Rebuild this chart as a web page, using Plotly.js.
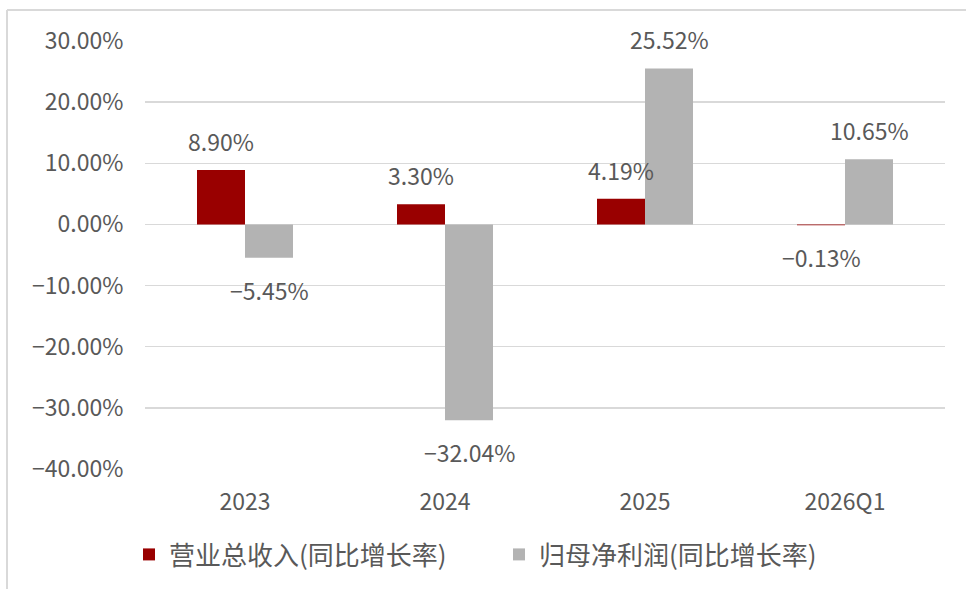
<!DOCTYPE html>
<html>
<head>
<meta charset="utf-8">
<script src="https://cdn.plot.ly/plotly-3.0.1.min.js"></script>
<style>
html,body{margin:0;padding:0;background:#fff;}
#chart{width:966px;height:589px;}
</style>
</head>
<body>
<div id="chart"></div>
<script>
const categories = ['2023', '2024', '2025', '2026Q1'];
const revenueGrowth = [8.90, 3.30, 4.19, -0.13];
const profitGrowth = [-5.45, -32.04, 25.52, 10.65];
const seriesNames = ['营业总收入(同比增长率)', '归母净利润(同比增长率)'];
const seriesColors = ['#990000', '#b3b3b3'];

const FONT = '"Noto Sans CJK SC", "Noto Sans", sans-serif';
const TXT = '#595959';

function fmt(v) {
  return (v < 0 ? '\u2212' : '') + Math.abs(v).toFixed(2) + '%';
}

const traces = [revenueGrowth, profitGrowth].map((vals, i) => ({
  type: 'bar',
  x: categories,
  y: vals,
  name: seriesNames[i],
  marker: {color: seriesColors[i]},
  hoverinfo: 'x+y'
}));

const annotations = [];
[revenueGrowth, profitGrowth].forEach((vals, i) => {
  vals.forEach((v, j) => {
    annotations.push({
      x: j, y: v, xref: 'x', yref: 'y',
      text: fmt(v), showarrow: false,
      xshift: i === 0 ? -24 : 24,
      yshift: v >= 0 ? 29 : -32,
      yanchor: 'middle', xanchor: 'center',
      font: {family: FONT, size: 23, color: TXT}
    });
  });
});

const layout = {
  width: 966, height: 589,
  margin: {l: 145, r: 21, t: 41, b: 119},
  paper_bgcolor: '#fff', plot_bgcolor: '#fff',
  barmode: 'group', bargap: 0.52, bargroupgap: 0,
  font: {family: FONT, color: TXT, size: 23},
  xaxis: {
    type: 'category', range: [-0.5, categories.length - 0.5], autorange: false,
    showgrid: false, showline: false, zeroline: false,
    ticks: 'outside', ticklen: 12, tickcolor: 'rgba(0,0,0,0)',
    tickfont: {family: FONT, size: 23, color: TXT}
  },
  yaxis: {
    range: [-40, 30], autorange: false, dtick: 10, tick0: 0,
    tickformat: '.2f', ticksuffix: '%',
    showgrid: true, gridcolor: '#d9d9d9', gridwidth: 1.5,
    zeroline: true, zerolinecolor: '#d9d9d9', zerolinewidth: 1.5,
    showline: false,
    ticks: 'outside', ticklen: 16, tickcolor: 'rgba(0,0,0,0)',
    tickfont: {family: FONT, size: 23, color: TXT}
  },
  showlegend: true,
  legend: {
    orientation: 'h', x: -0.02, xanchor: 'left', y: -0.197, yanchor: 'middle',
    font: {family: FONT, size: 26, color: TXT},
    itemwidth: 30, traceorder: 'normal', entrywidth: 325
  },
  annotations: annotations,
  shapes: [
    {type: 'line', xref: 'paper', yref: 'paper', x0: -0.1725, x1: 1.2, y0: 1.0723, y1: 1.0723,
     line: {color: '#d9d9d9', width: 2}},
    {type: 'line', xref: 'paper', yref: 'paper', x0: -0.1725, x1: -0.1725, y0: 1.0723, y1: -0.5,
     line: {color: '#d9d9d9', width: 2}}
  ]
};

Plotly.newPlot('chart', traces, layout, {displayModeBar: false, staticPlot: true});
</script>
</body>
</html>
